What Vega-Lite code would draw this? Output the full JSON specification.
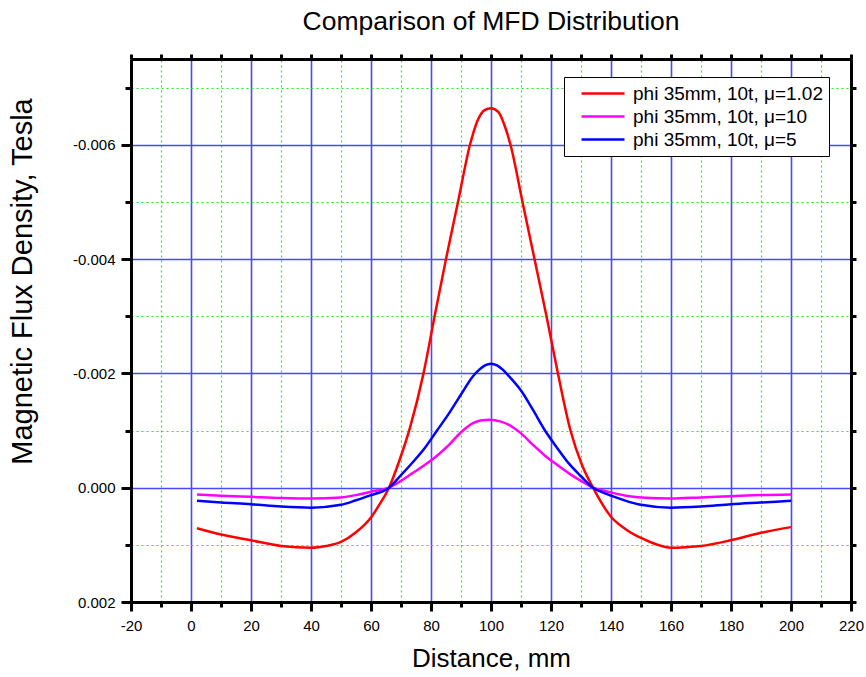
{
  "$schema": "https://vega.github.io/schema/vega-lite/v6.json",
  "width": 720,
  "height": 543,
  "autosize": {"type": "none"},
  "padding": {"left": 131, "top": 59, "right": 15, "bottom": 75},
  "background": "white",
  "title": {
    "text": "Comparison of MFD Distribution",
    "font": "Liberation Sans",
    "fontSize": 26.5,
    "fontWeight": "normal",
    "color": "black",
    "anchor": "middle",
    "offset": 17
  },
  "config": {
    "view": {"stroke": null},
    "axis": {
      "labelFont": "Liberation Sans",
      "titleFont": "Liberation Sans",
      "labelColor": "black",
      "titleColor": "black",
      "titleFontWeight": "normal",
      "domainColor": "black",
      "tickColor": "black"
    }
  },
  "data": {
    "values": [
      {"mu": "1.02", "x": 2, "y": 0.00071},
      {"mu": "1.02", "x": 10, "y": 0.00082},
      {"mu": "1.02", "x": 20, "y": 0.00092},
      {"mu": "1.02", "x": 30, "y": 0.00102},
      {"mu": "1.02", "x": 40, "y": 0.00105},
      {"mu": "1.02", "x": 45, "y": 0.00102},
      {"mu": "1.02", "x": 50, "y": 0.00095},
      {"mu": "1.02", "x": 55, "y": 0.00078},
      {"mu": "1.02", "x": 60, "y": 0.00052},
      {"mu": "1.02", "x": 63, "y": 0.00028},
      {"mu": "1.02", "x": 66, "y": 0.0},
      {"mu": "1.02", "x": 69.5, "y": -0.00048},
      {"mu": "1.02", "x": 73, "y": -0.00105},
      {"mu": "1.02", "x": 77.5, "y": -0.002},
      {"mu": "1.02", "x": 81.2, "y": -0.003},
      {"mu": "1.02", "x": 85, "y": -0.004},
      {"mu": "1.02", "x": 89, "y": -0.005},
      {"mu": "1.02", "x": 93, "y": -0.006},
      {"mu": "1.02", "x": 95.5, "y": -0.00642},
      {"mu": "1.02", "x": 98, "y": -0.00661},
      {"mu": "1.02", "x": 100, "y": -0.00664},
      {"mu": "1.02", "x": 102.5, "y": -0.00657},
      {"mu": "1.02", "x": 104.5, "y": -0.00634},
      {"mu": "1.02", "x": 106.5, "y": -0.006},
      {"mu": "1.02", "x": 110.5, "y": -0.005},
      {"mu": "1.02", "x": 114.5, "y": -0.004},
      {"mu": "1.02", "x": 118.5, "y": -0.003},
      {"mu": "1.02", "x": 122.3, "y": -0.002},
      {"mu": "1.02", "x": 126.5, "y": -0.001},
      {"mu": "1.02", "x": 130.3, "y": -0.0004},
      {"mu": "1.02", "x": 134, "y": 0.0},
      {"mu": "1.02", "x": 137, "y": 0.00028},
      {"mu": "1.02", "x": 140, "y": 0.00051},
      {"mu": "1.02", "x": 145, "y": 0.00073},
      {"mu": "1.02", "x": 150, "y": 0.00088},
      {"mu": "1.02", "x": 155, "y": 0.00099},
      {"mu": "1.02", "x": 160, "y": 0.00105},
      {"mu": "1.02", "x": 165, "y": 0.00104},
      {"mu": "1.02", "x": 170, "y": 0.00102},
      {"mu": "1.02", "x": 180, "y": 0.00092},
      {"mu": "1.02", "x": 190, "y": 0.00079},
      {"mu": "1.02", "x": 200, "y": 0.00069},

      {"mu": "10", "x": 2, "y": 0.00012},
      {"mu": "10", "x": 10, "y": 0.00014},
      {"mu": "10", "x": 20, "y": 0.00016},
      {"mu": "10", "x": 30, "y": 0.00018},
      {"mu": "10", "x": 40, "y": 0.00019},
      {"mu": "10", "x": 50, "y": 0.00017},
      {"mu": "10", "x": 55, "y": 0.00013},
      {"mu": "10", "x": 60, "y": 0.00007},
      {"mu": "10", "x": 66, "y": 0.0},
      {"mu": "10", "x": 70, "y": -0.00012},
      {"mu": "10", "x": 74, "y": -0.00026},
      {"mu": "10", "x": 78, "y": -0.0004},
      {"mu": "10", "x": 82, "y": -0.00056},
      {"mu": "10", "x": 86, "y": -0.00075},
      {"mu": "10", "x": 90, "y": -0.00097},
      {"mu": "10", "x": 94, "y": -0.00113},
      {"mu": "10", "x": 97, "y": -0.00118},
      {"mu": "10", "x": 100, "y": -0.00119},
      {"mu": "10", "x": 103, "y": -0.00116},
      {"mu": "10", "x": 106, "y": -0.0011},
      {"mu": "10", "x": 110, "y": -0.00095},
      {"mu": "10", "x": 114, "y": -0.00075},
      {"mu": "10", "x": 118, "y": -0.00056},
      {"mu": "10", "x": 122, "y": -0.0004},
      {"mu": "10", "x": 126, "y": -0.00025},
      {"mu": "10", "x": 130, "y": -0.00012},
      {"mu": "10", "x": 134, "y": 0.0},
      {"mu": "10", "x": 139, "y": 0.00007},
      {"mu": "10", "x": 145, "y": 0.00014},
      {"mu": "10", "x": 150, "y": 0.00017},
      {"mu": "10", "x": 160, "y": 0.00019},
      {"mu": "10", "x": 170, "y": 0.00017},
      {"mu": "10", "x": 180, "y": 0.00015},
      {"mu": "10", "x": 190, "y": 0.00013},
      {"mu": "10", "x": 200, "y": 0.00012},

      {"mu": "5", "x": 2, "y": 0.00023},
      {"mu": "5", "x": 10, "y": 0.00026},
      {"mu": "5", "x": 20, "y": 0.00029},
      {"mu": "5", "x": 30, "y": 0.00033},
      {"mu": "5", "x": 40, "y": 0.00035},
      {"mu": "5", "x": 50, "y": 0.0003},
      {"mu": "5", "x": 55, "y": 0.00022},
      {"mu": "5", "x": 60, "y": 0.00013},
      {"mu": "5", "x": 66, "y": 0.0},
      {"mu": "5", "x": 70, "y": -0.00022},
      {"mu": "5", "x": 74, "y": -0.00045},
      {"mu": "5", "x": 78, "y": -0.0007},
      {"mu": "5", "x": 82, "y": -0.001},
      {"mu": "5", "x": 86, "y": -0.0013},
      {"mu": "5", "x": 90, "y": -0.00163},
      {"mu": "5", "x": 94, "y": -0.00195},
      {"mu": "5", "x": 96, "y": -0.00206},
      {"mu": "5", "x": 98, "y": -0.00214},
      {"mu": "5", "x": 100, "y": -0.00217},
      {"mu": "5", "x": 102, "y": -0.00214},
      {"mu": "5", "x": 104, "y": -0.00206},
      {"mu": "5", "x": 106, "y": -0.00195},
      {"mu": "5", "x": 110, "y": -0.0017},
      {"mu": "5", "x": 114, "y": -0.00136},
      {"mu": "5", "x": 118, "y": -0.001},
      {"mu": "5", "x": 122, "y": -0.0007},
      {"mu": "5", "x": 126, "y": -0.00042},
      {"mu": "5", "x": 130, "y": -0.0002},
      {"mu": "5", "x": 134, "y": 0.0},
      {"mu": "5", "x": 138, "y": 0.0001},
      {"mu": "5", "x": 140, "y": 0.00014},
      {"mu": "5", "x": 145, "y": 0.00023},
      {"mu": "5", "x": 150, "y": 0.0003},
      {"mu": "5", "x": 160, "y": 0.00035},
      {"mu": "5", "x": 170, "y": 0.00033},
      {"mu": "5", "x": 180, "y": 0.00029},
      {"mu": "5", "x": 190, "y": 0.00026},
      {"mu": "5", "x": 200, "y": 0.00023}
    ]
  },
  "layer": [
    {
      "mark": {"type": "line", "opacity": 0},
      "encoding": {
        "x": {
          "field": "x",
          "type": "quantitative",
          "axis": {
            "orient": "bottom",
            "title": null,
            "labels": false,
            "domain": false,
            "values": [-10, 10, 30, 50, 70, 90, 110, 130, 150, 170, 190, 210],
            "tickWidth": 3,
            "tickSize": 5,
            "grid": true,
            "gridColor": "#22ee22",
            "gridDash": [2, 3],
            "gridWidth": 1.2
          }
        },
        "y": {
          "field": "y",
          "type": "quantitative",
          "axis": {
            "orient": "left",
            "title": null,
            "labels": false,
            "domain": false,
            "values": [-0.007, -0.005, -0.003, -0.001, 0.001],
            "tickWidth": 3,
            "tickSize": 6,
            "grid": true,
            "gridColor": "#22ee22",
            "gridDash": [2, 3],
            "gridWidth": 1.2
          }
        },
        "detail": {"field": "mu", "type": "nominal"}
      }
    },
    {
      "mark": {"type": "line", "strokeWidth": 2.5, "interpolate": "monotone"},
      "encoding": {
        "x": {
          "field": "x",
          "type": "quantitative",
          "scale": {"domain": [-20, 220], "nice": false, "zero": false},
          "axis": {
            "orient": "bottom",
            "title": "Distance, mm",
            "titleFontSize": 26,
            "titlePadding": 12,
            "values": [-20, 0, 20, 40, 60, 80, 100, 120, 140, 160, 180, 200, 220],
            "labelExpr": "replace(datum.label, '\u2212', '-')",
            "labelFontSize": 15,
            "labelPadding": 7,
            "labelFlush": false,
            "labelOverlap": false,
            "domainWidth": 3,
            "tickWidth": 3,
            "tickSize": 9,
            "grid": true,
            "gridColor": "#4848ff",
            "gridWidth": 1.6,
            "gridOpacity": 1
          }
        },
        "y": {
          "field": "y",
          "type": "quantitative",
          "scale": {"domain": [-0.0075, 0.002], "reverse": true, "nice": false, "zero": false},
          "axis": {
            "orient": "left",
            "title": "Magnetic Flux Density, Tesla",
            "titleFontSize": 29,
            "titleX": -109,
            "titleY": 222,
            "titleAlign": "center",
            "titleBaseline": "middle",
            "titleAngle": 270,
            "values": [-0.006, -0.004, -0.002, 0, 0.002],
            "format": ".3f",
            "labelExpr": "replace(datum.label, '\u2212', '-')",
            "labelFontSize": 15,
            "labelPadding": 6,
            "labelFlush": false,
            "labelOverlap": false,
            "domainWidth": 3,
            "tickWidth": 3,
            "tickSize": 10,
            "grid": true,
            "gridColor": "#4848ff",
            "gridWidth": 1.6,
            "gridOpacity": 1
          }
        },
        "color": {
          "field": "mu",
          "type": "nominal",
          "scale": {"domain": ["1.02", "10", "5"], "range": ["#ff0000", "#ff00ff", "#0000ff"]},
          "legend": {
            "title": null,
            "orient": "none",
            "legendX": 433,
            "legendY": 18,
            "labelExpr": "'phi 35mm, 10t, μ=' + datum.label",
            "labelFont": "Liberation Sans",
            "labelFontSize": 19,
            "labelColor": "black",
            "labelLimit": 400,
            "labelOffset": 7,
            "symbolType": "stroke",
            "symbolSize": 1849,
            "symbolStrokeWidth": 2.5,
            "symbolOffset": 10,
            "clipHeight": 21,
            "rowPadding": 2,
            "padding": 6,
            "fillColor": "white",
            "strokeColor": "black"
          }
        }
      }
    },
    {
      "mark": {"type": "line", "opacity": 0},
      "encoding": {
        "x": {
          "field": "x",
          "type": "quantitative",
          "axis": {
            "orient": "top",
            "title": null,
            "labels": false,
            "grid": false,
            "values": [-20, -10, 0, 10, 20, 30, 40, 50, 60, 70, 80, 90, 100, 110, 120, 130, 140, 150, 160, 170, 180, 190, 200, 210, 220],
            "domainWidth": 3,
            "tickWidth": 3,
            "tickSize": 5
          }
        },
        "y": {
          "field": "y",
          "type": "quantitative",
          "axis": {
            "orient": "right",
            "title": null,
            "labels": false,
            "grid": false,
            "values": [-0.007, -0.006, -0.005, -0.004, -0.003, -0.002, -0.001, 0, 0.001, 0.002],
            "domainWidth": 3,
            "tickWidth": 3,
            "tickSize": 5
          }
        },
        "detail": {"field": "mu", "type": "nominal"}
      }
    }
  ],
  "resolve": {"axis": {"x": "independent", "y": "independent"}}
}
